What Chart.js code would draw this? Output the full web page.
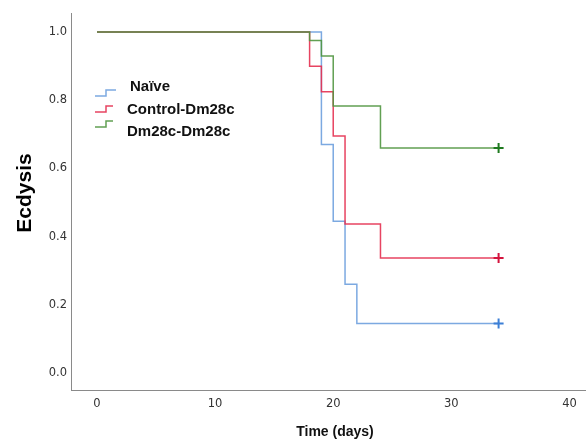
<!DOCTYPE html>
<html><head><meta charset="utf-8">
<script src="https://cdn.jsdelivr.net/npm/chart.js@4"></script>
<style>html,body{margin:0;padding:0;background:#fff}#wrap{width:586px;height:441px;position:relative}</style>
</head><body><div id="wrap"><canvas id="c"></canvas></div>
<script>
const seriesLabels = ['Naïve', 'Control-Dm28c', 'Dm28c-Dm28c'];
const naiveTimes = [0, 19, 20, 21, 22, 34];
const naiveValues = [1, 0.67, 0.445, 0.26, 0.145, 0.145];
const controlTimes = [0, 18, 19, 20, 21, 24, 34];
const controlValues = [1, 0.9, 0.825, 0.695, 0.437, 0.337, 0.337];
const dmTimes = [0, 18, 19, 20, 24, 34];
const dmValues = [1, 0.975, 0.93, 0.783, 0.66, 0.66];
const censorTimes = [34, 34, 34];
const censorValues = [0.145, 0.337, 0.66];
const xTicks = [0, 10, 20, 30, 40];
const yTicks = [0, 0.2, 0.4, 0.6, 0.8, 1.0];
const xTitle = 'Time (days)';
const yTitle = 'Ecdysis';

const lineColors = ['rgba(110,160,222,0.9)', 'rgba(228,48,80,0.9)', 'rgba(80,150,64,0.9)'];
const censorColors = ['#3c7fd6', '#d4143e', '#1f7a1f'];

function pts(t, v) { return t.map((x, i) => ({x: x, y: v[i]})); }
const seriesData = [pts(naiveTimes, naiveValues), pts(controlTimes, controlValues), pts(dmTimes, dmValues)];

const datasets = [];
seriesData.forEach((d, i) => {
  datasets.push({
    type: 'line', label: seriesLabels[i], data: d, stepped: true,
    borderColor: lineColors[i], borderWidth: 1.5, pointRadius: 0, fill: false, order: 10 - i
  });
});
censorTimes.forEach((t, i) => {
  datasets.push({
    type: 'scatter', label: seriesLabels[i] + ' censored', data: [{x: t, y: censorValues[i]}],
    pointStyle: 'cross', pointRadius: 5, borderWidth: 2, borderColor: censorColors[i],
    backgroundColor: censorColors[i], showLine: false, order: 0
  });
});

const legendPlugin = {
  id: 'kmLegend',
  afterDraw(chart) {
    const ctx = chart.ctx;
    const ca = chart.chartArea;
    const iconX = ca.left + 24;
    const iconY = [93, 109, 124];
    const textY = [87, 110, 132];
    const textX = [ca.left + 59, ca.left + 56, ca.left + 56];
    const rightLen = [10, 7, 7];
    ctx.save();
    for (let i = 0; i < 3; i++) {
      ctx.strokeStyle = lineColors[i];
      ctx.lineWidth = 1.5;
      ctx.beginPath();
      ctx.moveTo(iconX, iconY[i] + 3);
      ctx.lineTo(iconX + 11, iconY[i] + 3);
      ctx.lineTo(iconX + 11, iconY[i] - 3);
      ctx.lineTo(iconX + 11 + rightLen[i], iconY[i] - 3);
      ctx.stroke();
      ctx.fillStyle = '#111';
      ctx.font = 'bold 15px "Liberation Sans", Arial, sans-serif';
      ctx.textBaseline = 'middle';
      ctx.textAlign = 'left';
      ctx.fillText(seriesLabels[i], textX[i], textY[i]);
    }
    // x axis title
    ctx.font = 'bold 14px "Liberation Sans", Arial, sans-serif';
    ctx.textAlign = 'center';
    ctx.textBaseline = 'middle';
    ctx.fillStyle = '#111';
    ctx.fillText(xTitle, 335, 432);
    // y axis title
    ctx.translate(25, 193);
    ctx.rotate(-Math.PI / 2);
    ctx.font = 'bold 21px "Liberation Sans", Arial, sans-serif';
    ctx.fillStyle = '#000';
    ctx.fillText(yTitle, 0, 0);
    ctx.restore();
  }
};

function noPad(s) { s.paddingTop = 0; s.paddingBottom = 0; s.paddingLeft = 0; s.paddingRight = 0; }

new Chart(document.getElementById('c'), {
  type: 'line',
  data: {datasets: datasets},
  plugins: [legendPlugin],
  options: {
    responsive: true, maintainAspectRatio: false, animation: false,
    layout: {autoPadding: false, padding: {top: 13, right: 0, left: 0, bottom: 0}},
    plugins: {legend: {display: false}, tooltip: {enabled: false}},
    scales: {
      x: {
        type: 'linear', min: -2.2, max: 41.4,
        grid: {display: false, drawTicks: false},
        border: {display: true, color: '#8a8a8a', width: 1},
        afterBuildTicks: s => { s.ticks = xTicks.map(v => ({value: v})); },
        afterFit: s => { s.height = 51; noPad(s); },
        ticks: {padding: 7, color: '#333', font: {family: '"DejaVu Sans", sans-serif', size: 11.5}, maxRotation: 0}
      },
      y: {
        type: 'linear', min: -0.05, max: 1.056,
        grid: {display: false, drawTicks: false},
        border: {display: true, color: '#8a8a8a', width: 1},
        afterBuildTicks: s => { s.ticks = yTicks.map(v => ({value: v})); },
        afterFit: s => { s.width = 71; noPad(s); },
        ticks: {padding: 4, color: '#333', font: {family: '"DejaVu Sans", sans-serif', size: 11.5},
          callback: v => v.toFixed(1)}
      }
    }
  }
});
</script></body></html>
